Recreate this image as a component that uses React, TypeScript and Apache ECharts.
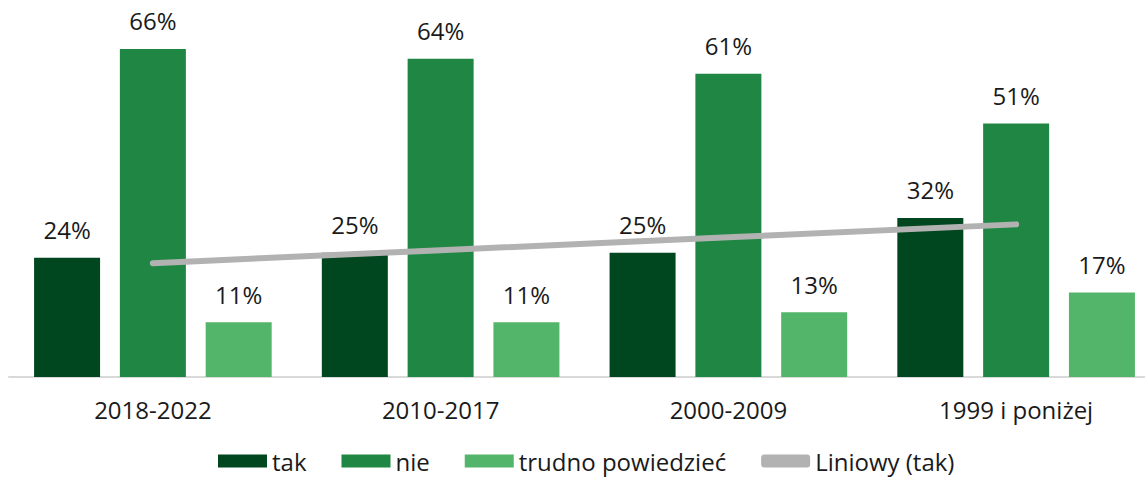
import React, { useEffect, useRef } from "react";
import * as echarts from "echarts";

const categories = ["2018-2022", "2010-2017", "2000-2009", "1999 i poniżej"];
const takValues = [24, 25, 25, 32];
const nieValues = [66, 64, 61, 51];
const trudnoValues = [11, 11, 13, 17];
const trendValues = [22.9, 25.5, 28.1, 30.7];

export default function App() {
  const ref = useRef<HTMLDivElement>(null);
  useEffect(() => {
    const chart = echarts.init(ref.current!, null, { renderer: "svg" });
    const font = "'Open Sans', 'Noto Sans', sans-serif";
    const label = {
      show: true,
      position: "top",
      distance: 16,
      formatter: "{c}%",
      color: "#1a1a1a",
      fontSize: 24,
      fontFamily: font,
    };
    chart.setOption({
      animation: false,
      textStyle: { fontFamily: font },
      grid: { left: 9, right: 0, top: 29, bottom: 102, containLabel: false },
      legend: {
        left: 213,
        top: 448,
        padding: [0, 5, 0, 5],
        itemWidth: 49,
        itemHeight: 13,
        itemGap: 35,
        textStyle: { fontSize: 24, lineHeight: 26, color: "#1a1a1a", fontFamily: font },
        data: [
          { name: "tak", icon: "rect" },
          { name: "nie", icon: "rect" },
          { name: "trudno powiedzieć", icon: "rect" },
          { name: "Liniowy (tak)", icon: "roundRect", itemStyle: { color: "#b2b2b2" } },
        ],
      },
      xAxis: {
        type: "category",
        data: categories,
        axisLine: { lineStyle: { color: "#d9d9d9", width: 2 } },
        axisTick: { show: false },
        axisLabel: { color: "#1a1a1a", fontSize: 24, margin: 20, fontFamily: font },
      },
      yAxis: {
        type: "value",
        min: 0,
        max: 70,
        show: false,
        splitLine: { show: false },
      },
      series: [
        {
          name: "tak",
          type: "bar",
          data: takValues,
          barWidth: 66,
          barGap: "30%",
          itemStyle: { color: "#00461e" },
          label,
        },
        {
          name: "nie",
          type: "bar",
          data: nieValues,
          barWidth: 66,
          barGap: "30%",
          itemStyle: { color: "#1f8743" },
          label,
        },
        {
          name: "trudno powiedzieć",
          type: "bar",
          data: trudnoValues,
          barWidth: 66,
          barGap: "30%",
          itemStyle: { color: "#53b56a" },
          label,
        },
        {
          name: "Liniowy (tak)",
          type: "line",
          data: trendValues,
          symbol: "none",
          z: 5,
          itemStyle: { color: "#b2b2b2" },
          lineStyle: { color: "#b2b2b2", width: 6, cap: "round" },
        },
      ],
    });
    return () => chart.dispose();
  }, []);
  return (
    <div
      ref={ref}
      style={{ position: "fixed", left: 0, top: 0, width: 1160, height: 479, background: "#fff" }}
    />
  );
}
